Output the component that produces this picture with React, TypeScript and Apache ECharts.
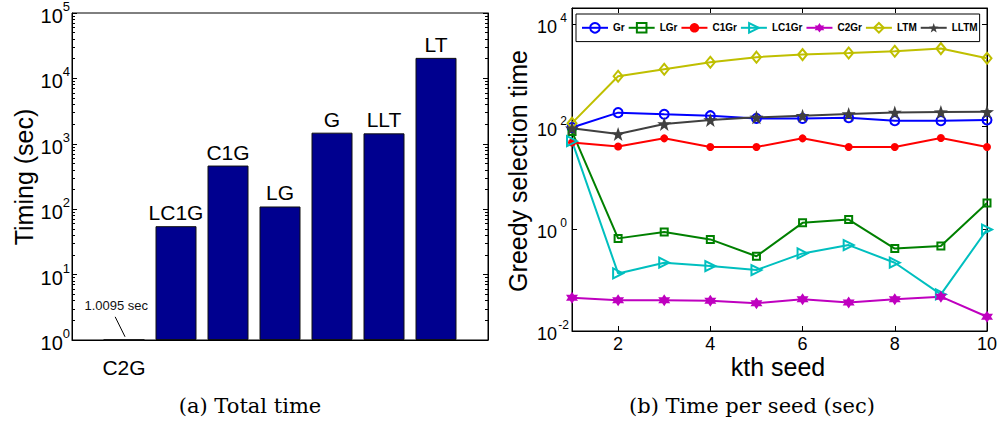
import React, { useEffect, useRef } from 'react';
import * as echarts from 'echarts';

// ---- Data: (a) Total time ----
const totalCategories = ['C2G', 'LC1G', 'C1G', 'LG', 'G', 'LLT', 'LT'];
const totalPositions = [1, 2, 3, 4, 5, 6, 7];
const totalTimes = [1.0095, 55, 465, 110, 1480, 1445, 20600];

// ---- Data: (b) Time per seed ----
const seeds = [1, 2, 3, 4, 5, 6, 7, 8, 9, 10];
const grTimes = [96, 188, 175, 164, 145, 145, 150, 131, 131, 135];
const lgrTimes = [80, 0.65, 0.87, 0.62, 0.29, 1.31, 1.52, 0.41, 0.46, 3.2];
const c1grTimes = [49, 41, 59, 40, 40, 59, 40, 40, 60, 40];
const lc1grTimes = [52, 0.134, 0.217, 0.187, 0.156, 0.33, 0.48, 0.217, 0.052, 0.97];
const c2grTimes = [0.045, 0.04, 0.04, 0.039, 0.035, 0.042, 0.036, 0.042, 0.047, 0.019];
const ltmTimes = [117, 970, 1330, 1820, 2290, 2570, 2760, 2990, 3370, 2180];
const lltmTimes = [93, 72, 113, 135, 152, 164, 177, 190, 193, 195];
const legendNames = ['Gr', 'LGr', 'C1Gr', 'LC1Gr', 'C2Gr', 'LTM', 'LLTM'];

const SANS = "'Liberation Sans', Arial, Helvetica, sans-serif";
const SERIF = "'DejaVu Serif', 'Liberation Serif', serif";

const PENTAGRAM =
  'path://M0,-10 L2.35,-3.24 L9.51,-3.09 L3.8,1.24 L5.88,8.09 L0,4 L-5.88,8.09 L-3.8,1.24 L-9.51,-3.09 L-2.35,-3.24 Z';
const HEXAGRAM =
  'path://M0,-10 L2.887,-5 L8.66,-5 L5.774,0 L8.66,5 L2.887,5 L0,10 L-2.887,5 L-8.66,5 L-5.774,0 L-8.66,-5 L-2.887,-5 Z';

function powLabel(v: number) {
  const l = Math.log10(v);
  const e = Math.round(l);
  if (Math.abs(l - e) > 1e-6) return '';
  return '{b|10}{s|' + e + '}';
}

function lineSeries(
  name: string,
  values: number[],
  color: string,
  symbol: string,
  size: number | number[],
  filled: boolean,
  extra: any = {}
) {
  return {
    type: 'line',
    name,
    xAxisIndex: 1,
    yAxisIndex: 2,
    data: seeds.map((s, i) => [s, values[i]]),
    symbol,
    symbolSize: size,
    showSymbol: true,
    lineStyle: { color, width: 2 },
    itemStyle: filled
      ? { color, borderColor: color, borderWidth: 0 }
      : { color: 'rgba(255,255,255,0)', borderColor: color, borderWidth: 2 },
    emphasis: { disabled: true },
    ...extra,
  };
}

export default function App() {
  const ref = useRef<HTMLDivElement>(null);

  useEffect(() => {
    if (!ref.current) return;
    const chart = echarts.init(ref.current, undefined, { renderer: 'svg' });

    const axisLineStyle = { lineStyle: { color: '#000', width: 1 } };

    const option: any = {
      animation: false,
      backgroundColor: '#fff',
      grid: [
        { left: 72, top: 12, width: 416, height: 328, show: true, borderColor: '#000', borderWidth: 1, backgroundColor: 'transparent' },
        { left: 572, top: 8, width: 415, height: 323, show: true, borderColor: '#000', borderWidth: 1, backgroundColor: 'transparent' },
      ],
      xAxis: [
        {
          gridIndex: 0,
          type: 'value',
          min: 0,
          max: 8,
          axisLine: axisLineStyle,
          axisTick: { show: false },
          axisLabel: { show: false },
          splitLine: { show: false },
        },
        {
          gridIndex: 1,
          type: 'value',
          min: 1,
          max: 10,
          splitNumber: 5,
          axisLine: axisLineStyle,
          axisTick: { show: true, inside: true, length: 5, lineStyle: { color: '#000' } },
          axisLabel: {
            show: true,
            margin: 4,
            fontSize: 18,
            fontFamily: SANS,
            color: '#000',
            formatter: (v: number) => (v === 1 ? '' : String(v)),
          },
          splitLine: { show: false },
        },
        {
          gridIndex: 1,
          type: 'value',
          position: 'top',
          min: 1,
          max: 10,
          splitNumber: 5,
          axisLine: axisLineStyle,
          axisTick: { show: true, inside: true, length: 5, lineStyle: { color: '#000' } },
          axisLabel: { show: false },
          splitLine: { show: false },
        },
      ],
      yAxis: [
        {
          gridIndex: 0,
          type: 'log',
          logBase: 10,
          min: 1,
          max: 100000,
          axisLine: axisLineStyle,
          axisTick: { show: true, inside: true, length: 5, lineStyle: { color: '#000' } },
          minorTick: { show: true, splitNumber: 9, length: 3, lineStyle: { color: '#000' } },
          axisLabel: {
            show: true,
            margin: 2,
            formatter: powLabel,
            rich: {
              b: { fontSize: 20, fontFamily: SANS, color: '#000', lineHeight: 26, verticalAlign: 'bottom' },
              s: { fontSize: 13, fontFamily: SANS, color: '#000', lineHeight: 13, verticalAlign: 'top' },
            },
          },
          splitLine: { show: false },
          minorSplitLine: { show: false },
        },
        {
          gridIndex: 0,
          type: 'log',
          logBase: 10,
          min: 1,
          max: 100000,
          position: 'right',
          axisLine: axisLineStyle,
          axisTick: { show: true, inside: true, length: 5, lineStyle: { color: '#000' } },
          minorTick: { show: true, splitNumber: 9, length: 3, lineStyle: { color: '#000' } },
          axisLabel: { show: false },
          splitLine: { show: false },
        },
        {
          gridIndex: 1,
          type: 'log',
          logBase: 100,
          min: 0.01,
          max: 21000,
          axisLine: axisLineStyle,
          axisTick: { show: true, inside: true, length: 5, lineStyle: { color: '#000' } },
          axisLabel: {
            show: true,
            margin: 2,
            formatter: powLabel,
            rich: {
              b: { fontSize: 18, fontFamily: SANS, color: '#000', lineHeight: 24, verticalAlign: 'bottom' },
              s: { fontSize: 12, fontFamily: SANS, color: '#000', lineHeight: 12, verticalAlign: 'top', width: 13, align: 'left' },
            },
          },
          splitLine: { show: false },
        },
        {
          gridIndex: 1,
          type: 'log',
          logBase: 100,
          min: 0.01,
          max: 21000,
          position: 'right',
          axisLine: axisLineStyle,
          axisTick: { show: true, inside: true, length: 5, lineStyle: { color: '#000' } },
          axisLabel: { show: false },
          splitLine: { show: false },
        },
      ],
      legend: {
        data: legendNames,
        orient: 'horizontal',
        left: 576,
        top: 14,
        width: 600,
        padding: [8, 2, 8, 5],
        itemGap: 3,
        itemWidth: 26,
        itemHeight: 12,
        borderColor: '#000',
        borderWidth: 1,
        backgroundColor: '#fff',
        borderRadius: 0,
        textStyle: { fontSize: 10, fontWeight: 'bold', fontFamily: SANS, color: '#000' },
        selectedMode: false,
      },
      series: [
        {
          type: 'bar',
          name: 'Total time',
          xAxisIndex: 0,
          yAxisIndex: 0,
          barWidth: 41,
          data: totalPositions.map((p, i) =>
            i === 0
              ? { value: [p, totalTimes[i]], label: { position: 'bottom', distance: 17 } }
              : { value: [p, totalTimes[i]] }
          ),
          itemStyle: { color: '#00008F', borderColor: '#111', borderWidth: 1 },
          label: {
            show: true,
            position: 'top',
            distance: 3,
            fontSize: 21,
            fontFamily: SANS,
            color: '#000',
            formatter: (p: any) => totalCategories[p.dataIndex],
          },
          emphasis: { disabled: true },
          markLine: {
            silent: true,
            symbol: ['none', 'arrow'],
            symbolSize: [0, 10],
            lineStyle: { color: '#000', width: 1, type: 'solid' },
            label: { show: false },
            data: [[{ coord: [1.02, 1.12] }, { coord: [0.83, 2.26] }]],
          },
          markPoint: {
            silent: true,
            symbol: 'rect',
            symbolSize: 0,
            label: {
              show: true,
              position: 'inside',
              fontSize: 13,
              fontFamily: SANS,
              color: '#111',
              formatter: () => totalTimes[0] + ' sec',
            },
            data: [{ coord: [0.85, 3.4] }],
          },
        },
        lineSeries('Gr', grTimes, '#0000FF', 'circle', 9, false),
        lineSeries('LGr', lgrTimes, '#008000', 'rect', 7, false),
        lineSeries('C1Gr', c1grTimes, '#FF0000', 'circle', 8, true),
        lineSeries('LC1Gr', lc1grTimes, '#00BFBF', 'triangle', 10, false, { symbolRotate: -90 }),
        lineSeries('C2Gr', c2grTimes, '#BF00BF', HEXAGRAM, 12, true),
        lineSeries('LTM', ltmTimes, '#BFBF00', 'diamond', [9, 11], false),
        lineSeries('LLTM', lltmTimes, '#404040', PENTAGRAM, 14, true),
      ],
      graphic: [
        {
          type: 'text',
          x: 24,
          y: 177,
          rotation: Math.PI / 2,
          style: { text: 'Timing (sec)', fontSize: 25, fontFamily: SANS, fill: '#000', align: 'center', verticalAlign: 'middle', textAlign: 'center', textVerticalAlign: 'middle' },
        },
        {
          type: 'text',
          x: 518,
          y: 171,
          rotation: Math.PI / 2,
          style: { text: 'Greedy selection time', fontSize: 25, fontFamily: SANS, fill: '#000', align: 'center', verticalAlign: 'middle', textAlign: 'center', textVerticalAlign: 'middle' },
        },
        {
          type: 'text',
          x: 778,
          y: 367,
          style: { text: 'kth seed', fontSize: 25, fontFamily: SANS, fill: '#000', align: 'center', verticalAlign: 'middle', textAlign: 'center', textVerticalAlign: 'middle' },
        },
        {
          type: 'text',
          x: 250,
          y: 406,
          style: { text: '(a) Total time', fontSize: 21, fontFamily: SERIF, fill: '#000', align: 'center', verticalAlign: 'middle', textAlign: 'center', textVerticalAlign: 'middle' },
        },
        {
          type: 'text',
          x: 752,
          y: 406,
          style: { text: '(b) Time per seed (sec)', fontSize: 21, fontFamily: SERIF, fill: '#000', align: 'center', verticalAlign: 'middle', textAlign: 'center', textVerticalAlign: 'middle' },
        },
      ],
    };

    chart.setOption(option);
    return () => chart.dispose();
  }, []);

  return (
    <div
      ref={ref}
      style={{ position: 'fixed', left: 0, top: 0, width: 1003, height: 428, background: '#fff' }}
    />
  );
}
